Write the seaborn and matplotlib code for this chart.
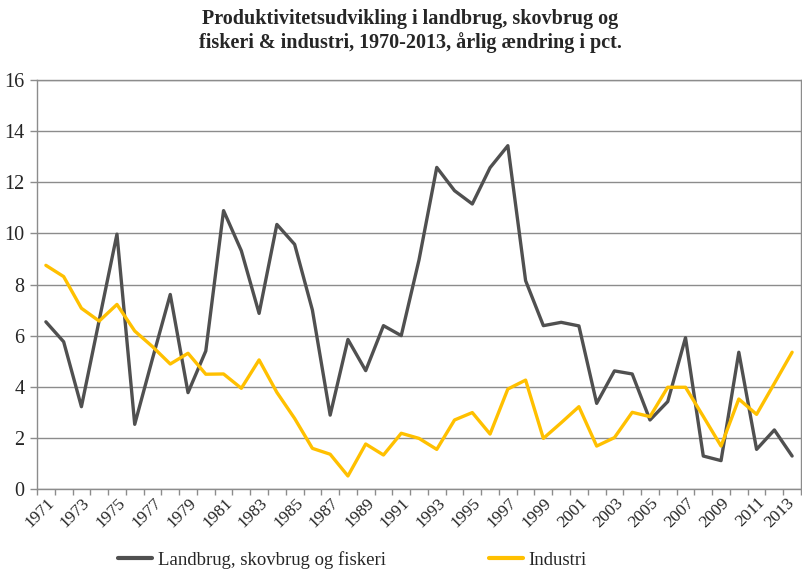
import numpy as np
import pandas as pd
import matplotlib
matplotlib.use("Agg")
import matplotlib.pyplot as plt
import matplotlib.transforms as mtransforms
import seaborn as sns
from matplotlib.lines import Line2D

years = list(range(1971, 2014))
landbrug = [6.54, 5.76, 3.22, 6.6, 9.97, 2.53, 5.1, 7.61, 3.77, 5.40,
            10.89, 9.32, 6.87, 10.35, 9.57, 7.0, 2.89, 5.85, 4.63, 6.39,
            6.0, 8.96, 12.58, 11.67, 11.15, 12.57, 13.43, 8.15, 6.39, 6.52,
            6.38, 3.35, 4.62, 4.50, 2.70, 3.42, 5.92, 1.29, 1.11, 5.35,
            1.55, 2.31, 1.29]
industri = [8.75, 8.31, 7.07, 6.57, 7.22, 6.18, 5.57, 4.89, 5.31, 4.49,
            4.50, 3.94, 5.05, 3.78, 2.76, 1.59, 1.36, 0.51, 1.76, 1.33,
            2.18, 1.98, 1.55, 2.70, 2.99, 2.15, 3.91, 4.26, 1.98, 2.59,
            3.22, 1.68, 2.01, 3.00, 2.83, 3.98, 3.98, 2.84, 1.68, 3.52,
            2.92, 4.13, 5.35]
series_names = ["Landbrug, skovbrug og fiskeri", "Industri"]
colors = ["#505050", "#FFC000"]
title = "Produktivitetsudvikling i landbrug, skovbrug og\nfiskeri & industri, 1970-2013, årlig ændring i pct."

sns.set_theme(style="white")
plt.rcParams['font.family'] = ['Liberation Serif', 'DejaVu Serif']

fig = plt.figure(figsize=(8.02, 5.69), dpi=100)
ax = fig.add_axes([37/802, (569-489)/569, 764/802, 409/569])

idx = np.arange(len(years))
df = pd.DataFrame({"idx": np.concatenate([idx, idx]),
                   "val": landbrug + industri,
                   "serie": [series_names[0]]*len(years) + [series_names[1]]*len(years)})
sns.lineplot(data=df, x="idx", y="val", hue="serie", palette=colors,
             linewidth=2.4, ax=ax, legend=False)

ax.set_xlim(-0.5, len(years) - 0.5)
ax.set_ylim(0, 16)
ax.set_yticks(range(0, 17, 2))
ax.set_yticklabels([str(v) for v in range(0, 17, 2)], fontsize=14.5)
ax.yaxis.grid(True, color="#8c8c8c", linewidth=1.0)
ax.xaxis.grid(False)
ax.set_axisbelow(True)

ax.set_xticks(idx[::2])
ax.set_xticklabels([str(y) for y in years[::2]], rotation=45, ha="right", va="top",
                   rotation_mode="anchor", fontsize=12.5)
ax.tick_params(axis="x", which="major", length=0, pad=4)
labels = ax.get_xticklabels()
for i, lbl in enumerate(labels):
    dx = -6 if i == len(labels) - 1 else 0.5
    lbl.set_transform(lbl.get_transform() +
                      mtransforms.ScaledTranslation(dx/100, 0, fig.dpi_scale_trans))
ax.set_xticks(np.arange(-0.5, len(years), 1.0), minor=True)
ax.tick_params(axis="x", which="minor", length=4, color="#8c8c8c", width=1, direction="out", bottom=True)
ax.tick_params(axis="y", length=5, color="#8c8c8c", width=1, direction="out", left=True, pad=4)
for s in ax.spines.values():
    s.set_color("#8c8c8c")
    s.set_linewidth(1.0)
ax.set_xlabel("")
ax.set_ylabel("")

fig.text(410/802, 1 - 31/569, title, ha="center", va="center", fontsize=14.5,
         fontweight="bold", linespacing=1.25)

handles = [Line2D([0], [0], color=c, lw=3) for c in colors]
fig.legend(handles, series_names, loc="center left", bbox_to_anchor=(118/802, 1 - 560/569),
           ncol=2, frameon=False, fontsize=13.5, handlelength=1.8, handletextpad=0.32,
           columnspacing=5.5, borderaxespad=0, borderpad=0)

fig.savefig("out.png", dpi=100)
